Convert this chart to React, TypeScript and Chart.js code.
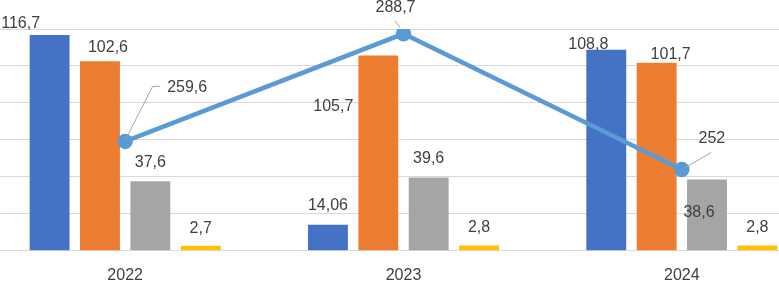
import React, { useEffect, useRef } from "react";
import { Chart, registerables } from "chart.js";

Chart.register(...registerables);

const categories = ["2022", "2023", "2024"];
const seriesBlue = [116.7, 14.06, 108.8];
const seriesOrange = [102.6, 105.7, 101.7];
const seriesGray = [37.6, 39.6, 38.6];
const seriesYellow = [2.7, 2.8, 2.8];
const lineValues = [259.6, 288.7, 252];

const FONT = "'Liberation Sans', Arial, sans-serif";
const TEXT = "#404040";

// label offsets (dx, dy) relative to each element's anchor
const labelOffsets: Record<string, [number, number][]> = {
  line: [[62, -54], [-8, -26], [30, -31]],
  blue: [[-29, -12], [0, -19], [-18, -5]],
  orange: [[8, -14], [-45, 51], [14, -8]],
  gray: [[0, -19], [0, -19], [-8, 33]],
  yellow: [[0, -17], [0, -18], [0, -18]],
};
const leaderLines: [number, number][][] = [
  [[1, -3], [27.5, -55], [35, -55]],
  [[-3.5, -6], [-8.5, -13]],
  [[3.5, -2], [29.5, -17]],
];

const fmt = (v: number) => String(v).replace(".", ",");

const labelPlugin = {
  id: "customLabels",
  afterDatasetsDraw(chart: any) {
    const ctx = chart.ctx;
    ctx.save();
    chart.data.datasets.forEach((ds: any, di: number) => {
      const meta = chart.getDatasetMeta(di);
      const offs = labelOffsets[ds.key];
      meta.data.forEach((el: any, i: number) => {
        const v = ds.data[i];
        const [dx, dy] = offs[i];
        if (ds.key === "line") {
          ctx.strokeStyle = "#A6A6A6";
          ctx.lineWidth = 1;
          ctx.beginPath();
          leaderLines[i].forEach(([lx, ly], k) => {
            if (k === 0) ctx.moveTo(el.x + lx, el.y + ly);
            else ctx.lineTo(el.x + lx, el.y + ly);
          });
          ctx.stroke();
        }
        ctx.fillStyle = TEXT;
        ctx.font = `16px ${FONT}`;
        ctx.textAlign = "center";
        ctx.textBaseline = "middle";
        ctx.fillText(fmt(v), el.x + dx, el.y + dy);
      });
    });
    ctx.restore();
  },
};

export default function App() {
  const ref = useRef<HTMLCanvasElement | null>(null);
  useEffect(() => {
    if (!ref.current) return;
    const chart = new Chart(ref.current, {
      type: "bar",
      data: {
        labels: categories,
        datasets: [
          {
            key: "line",
            type: "line",
            data: lineValues,
            yAxisID: "y1",
            borderColor: "#5B9BD5",
            backgroundColor: "#5B9BD5",
            borderWidth: 4.5,
            pointRadius: 5.5,
            pointBackgroundColor: "#5B9BD5",
            pointBorderColor: "#5B9BD5",
            tension: 0,
            order: 0,
          } as any,
          { key: "blue", data: seriesBlue, backgroundColor: "#4472C4", order: 1 } as any,
          { key: "orange", data: seriesOrange, backgroundColor: "#ED7D31", order: 1 } as any,
          { key: "gray", data: seriesGray, backgroundColor: "#A5A5A5", order: 1 } as any,
          { key: "yellow", data: seriesYellow, backgroundColor: "#FFC000", order: 1 } as any,
        ],
      },
      options: {
        animation: false,
        responsive: false,
        maintainAspectRatio: false,
        layout: { padding: { top: 29, left: 0, right: 0, bottom: 3 } },
        datasets: { bar: { categoryPercentage: 0.724, barPercentage: 0.792 } },
        plugins: { legend: { display: false }, tooltip: { enabled: false } },
        scales: {
          x: {
            grid: { display: false, drawTicks: false },
            border: { display: false },
            ticks: { color: TEXT, font: { family: FONT, size: 16 }, padding: 15 },
          },
          y: {
            min: 0,
            max: 120,
            ticks: { display: false, stepSize: 20 },
            grid: { color: "#D9D9D9", drawTicks: false, lineWidth: 1 },
            border: { display: false },
          },
          y1: {
            min: 230,
            max: 290,
            display: false,
            position: "right",
          },
        },
      } as any,
      plugins: [labelPlugin],
    });
    return () => chart.destroy();
  }, []);
  return (
    <div style={{ position: "fixed", left: 0, top: 0, width: 779, height: 281, overflow: "hidden", background: "#fff" }}>
      <div style={{ position: "absolute", left: -24.5, top: 0, width: 855, height: 303 }}>
        <canvas ref={ref} width={855} height={303} style={{ width: 855, height: 303 }} />
      </div>
    </div>
  );
}
